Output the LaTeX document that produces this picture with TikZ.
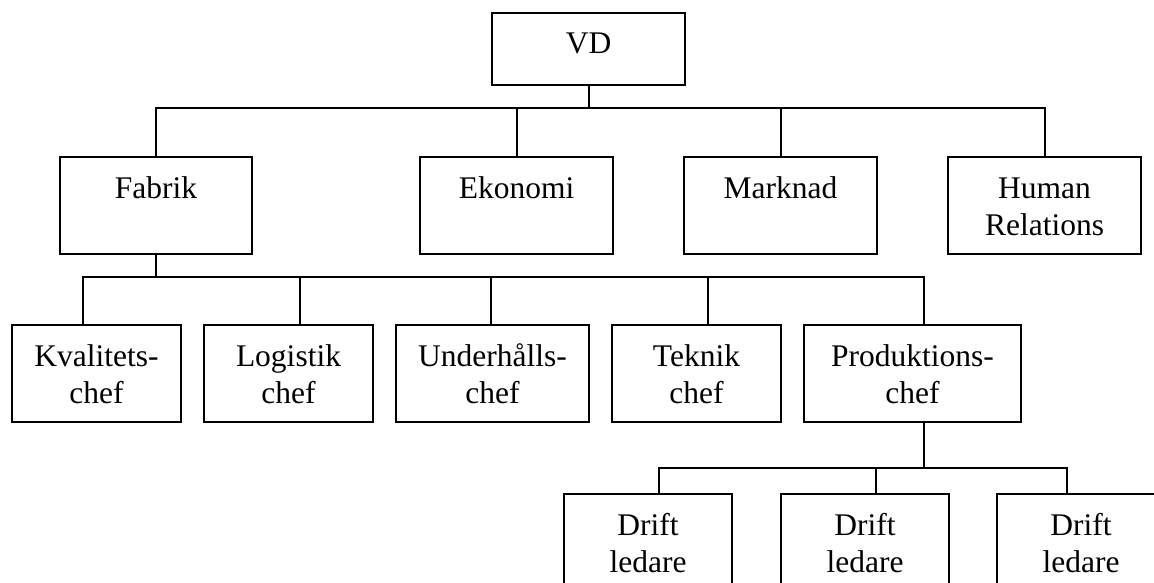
\documentclass[tikz,border=0pt]{standalone}
\usepackage{fontspec}
\setmainfont{Liberation Serif}
\newcommand\mystrut{\rule[-4pt]{0pt}{30pt}}
\begin{document}
\begin{tikzpicture}[x=1pt,y=-1pt,
  orgbox/.style={draw, line width=2pt, anchor=north west, inner sep=0pt,
    minimum height=97pt, align=center,
    font=\fontsize{31.5}{37}\selectfont},
  conn/.style={line width=2pt, line cap=rect}]
\useasboundingbox (0,0) rectangle (1154,583);
% top
\node[orgbox, minimum width=193pt, minimum height=72pt] (vd) at (491,12) {\rule[-11pt]{0pt}{30pt}VD};
% row 2
\node[orgbox, minimum width=192pt] (fab) at (59,156) {\mystrut Fabrik\\\mystrut};
\node[orgbox, minimum width=193pt] (eko) at (419,156) {\mystrut Ekonomi\\\mystrut};
\node[orgbox, minimum width=193pt] (mar) at (683,156) {\mystrut Marknad\\\mystrut};
\node[orgbox, minimum width=193pt] (hr) at (947,156) {\mystrut Human\\\mystrut Relations};
% row 3
\node[orgbox, minimum width=169pt] (kv) at (11,324) {\mystrut Kvalitets-\\\mystrut chef};
\node[orgbox, minimum width=169pt] (lo) at (203,324) {\mystrut Logistik\\\mystrut chef};
\node[orgbox, minimum width=193pt] (un) at (395,324) {\mystrut Underhålls-\\\mystrut chef};
\node[orgbox, minimum width=169pt] (te) at (611,324) {\mystrut Teknik\\\mystrut chef};
\node[orgbox, minimum width=217pt] (pr) at (803,324) {\mystrut Produktions-\\\mystrut chef};
% row 4
\node[orgbox, minimum width=168pt] (d1) at (563,493) {\mystrut Drift\\\mystrut ledare};
\node[orgbox, minimum width=168pt] (d2) at (780,493) {\mystrut Drift\\\mystrut ledare};
\node[orgbox, minimum width=168pt] (d3) at (996,493) {\mystrut Drift\\\mystrut ledare};
% bus coordinates
\coordinate (b1) at (587.5,108);
\coordinate (b2) at (155,277);
\coordinate (b3) at (924,468);
\coordinate (kvs) at (83,277);
\coordinate (los) at (300,277);
\coordinate (uns) at (491,277);
\coordinate (tes) at (707.5,277);
\coordinate (d1s) at (659,468);
\coordinate (d2s) at (876,468);
\coordinate (d3s) at (1067,468);
% level 1
\draw[conn] (vd.south) -- (vd.south |- b1);
\draw[conn] (fab.north |- b1) -- (hr.north |- b1);
\draw[conn] (fab.north |- b1) -- (fab.north);
\draw[conn] (eko.north |- b1) -- (eko.north);
\draw[conn] (mar.north |- b1) -- (mar.north);
\draw[conn] (hr.north |- b1) -- (hr.north);
% level 2
\draw[conn] (fab.south) -- (fab.south |- b2);
\draw[conn] (kvs) -- (b3 |- kvs);
\draw[conn] (kvs) -- (kvs |- kv.north);
\draw[conn] (los) -- (los |- lo.north);
\draw[conn] (uns) -- (uns |- un.north);
\draw[conn] (tes) -- (tes |- te.north);
\draw[conn] (b3 |- kvs) -- (b3 |- pr.north);
% level 3
\draw[conn] (b3 |- pr.south) -- (b3);
\draw[conn] (d1s) -- (d3s);
\draw[conn] (d1s) -- (d1s |- d1.north);
\draw[conn] (d2s) -- (d2s |- d2.north);
\draw[conn] (d3s) -- (d3s |- d3.north);
\end{tikzpicture}
\end{document}
